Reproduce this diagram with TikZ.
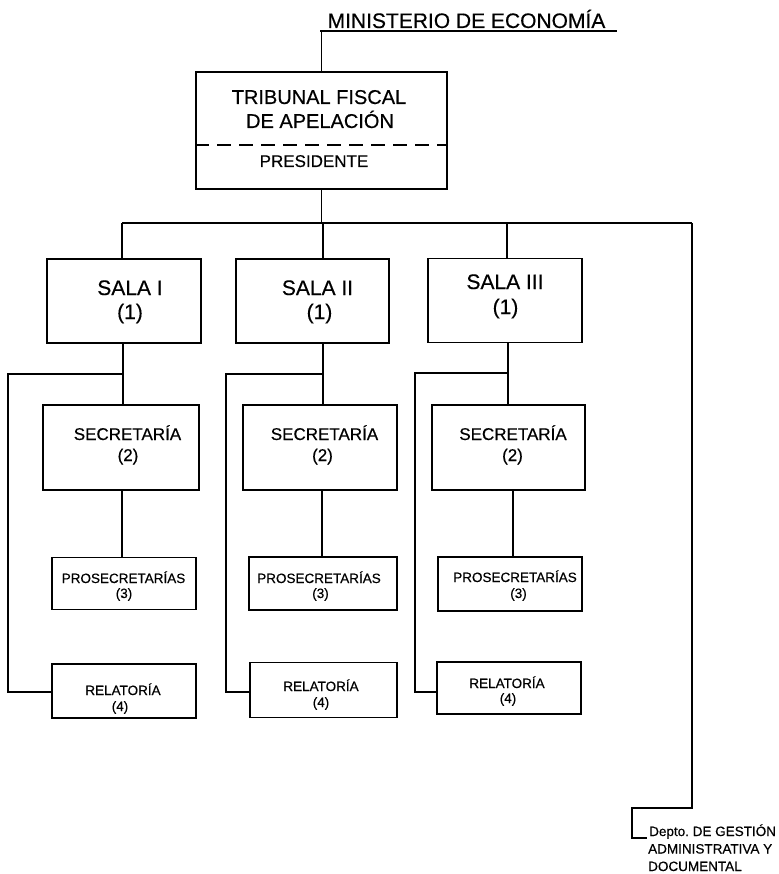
\documentclass[tikz,border=0pt]{standalone}
\usepackage{fontspec}
\setmainfont{Liberation Sans}[FakeBold=0.4]
\frenchspacing
\newcommand{\fsz}[1]{\fontsize{#1}{#1}\selectfont}
\begin{document}
\begin{tikzpicture}[x=1pt,y=-1pt,
  box/.style={draw, line width=1.6pt, rectangle, inner sep=0pt},
  conn/.style={line width=1.3pt},
  txt/.style={inner sep=0pt, anchor=base},
  big/.style={font=\fsz{21}},
  tfat/.style={font=\fsz{20}},
  mid/.style={font=\fsz{17}},
  small/.style={font=\fsz{13.5}}]
\useasboundingbox[fill=white] (0,0) rectangle (778,874);

% ---- boxes ----
\node[box, minimum width=251pt, minimum height=117pt] (tfa) at (321.5,130.5) {};
\node[box, minimum width=154pt, minimum height=84pt] (s1) at (124,301) {};
\node[box, minimum width=153pt, minimum height=84pt] (s2) at (312.5,301) {};
\node[box, minimum width=154pt, minimum height=84pt] (s3) at (505,300.5) {};
\node[box, minimum width=156pt, minimum height=85pt] (c1) at (121,447.5) {};
\node[box, minimum width=154pt, minimum height=85pt] (c2) at (320,447.5) {};
\node[box, minimum width=153pt, minimum height=85pt] (c3) at (508.5,447.5) {};
\node[box, minimum width=144pt, minimum height=52pt] (p1) at (124,583.5) {};
\node[box, minimum width=148pt, minimum height=53pt] (p2) at (323,583.5) {};
\node[box, minimum width=144pt, minimum height=54pt] (p3) at (510,584) {};
\node[box, minimum width=144pt, minimum height=54pt] (r1) at (124,691) {};
\node[box, minimum width=147pt, minimum height=55pt] (r2) at (323.5,690) {};
\node[box, minimum width=144pt, minimum height=52pt] (r3) at (509,688) {};

% ---- texts ----
\node[txt, big] (min) at (466.5,28) {MINISTERIO DE ECONOMÍA};
\node[txt, tfat] (t1) at (319,104) {TRIBUNAL FISCAL};
\node[txt, tfat] (t2) at (320,128) {DE APELACIÓN};
\node[txt, mid] (t3) at (314,167) {PRESIDENTE};

\node[txt, big] (s1a) at (130,295) {SALA I};
\node[txt, big] (s1b) at (130,319) {(1)};
\node[txt, big] (s2a) at (317.5,295) {SALA II};
\node[txt, big] (s2b) at (319.5,319) {(1)};
\node[txt, big] (s3a) at (505,289) {SALA III};
\node[txt, big] (s3b) at (505.5,314) {(1)};

\node[txt, mid] (c1a) at (127.5,440) {SECRETARÍA};
\node[txt, mid] (c1b) at (128,461) {(2)};
\node[txt, mid] (c2a) at (324.5,440) {SECRETARÍA};
\node[txt, mid] (c2b) at (322.5,461) {(2)};
\node[txt, mid] (c3a) at (513,440) {SECRETARÍA};
\node[txt, mid] (c3b) at (512.5,461) {(2)};

\node[txt, small] (p1a) at (123.5,583) {PROSECRETARÍAS};
\node[txt, small] (p1b) at (124,598) {(3)};
\node[txt, small] (p2a) at (319,583) {PROSECRETARÍAS};
\node[txt, small] (p2b) at (320.5,598) {(3)};
\node[txt, small] (p3a) at (515,582) {PROSECRETARÍAS};
\node[txt, small] (p3b) at (518.5,598) {(3)};

\node[txt, small] (r1a) at (123,695) {RELATORÍA};
\node[txt, small] (r1b) at (120,711) {(4)};
\node[txt, small] (r2a) at (321,691) {RELATORÍA};
\node[txt, small] (r2b) at (321,707) {(4)};
\node[txt, small] (r3a) at (507,688) {RELATORÍA};
\node[txt, small] (r3b) at (508,703) {(4)};

\node[txt, small, anchor=base west] (d1) at (649,836) {Depto. DE GESTIÓN};
\node[txt, small, anchor=base west] (d2) at (648,853.5) {ADMINISTRATIVA Y};
\node[txt, small, anchor=base west] (d3) at (648,871) {DOCUMENTAL};

% ---- dashed divider ----
\coordinate (dv) at (0,145);
\draw[conn, dash pattern=on 14pt off 8pt] (tfa.west |- dv) -- (tfa.east |- dv);

% ---- connectors ----
\coordinate (u0) at (321.5,31);
\coordinate (u1) at (320,31);
\coordinate (u2) at (617,31);
\draw[conn] (u1) -- (u2);
\draw[conn] (u0) -- (tfa.north);

\coordinate (b0) at (321.5,223);
\coordinate (bl) at (122,223);
\coordinate (b2) at (323,223);
\coordinate (b3) at (507,223);
\coordinate (br) at (692,223);
\draw[conn] (tfa.south) -- (b0);
\draw[conn] (bl) -- (br);
\draw[conn] (bl) -- (bl |- s1.north);
\draw[conn] (b2) -- (b2 |- s2.north);
\draw[conn] (b3) -- (b3 |- s3.north);

\coordinate (j1) at (123,374);
\coordinate (j2) at (323,374);
\coordinate (j3) at (508,373);
\draw[conn] (j1 |- s1.south) -- (j1 |- c1.north);
\draw[conn] (j2 |- s2.south) -- (j2 |- c2.north);
\draw[conn] (j3 |- s3.south) -- (j3 |- c3.north);

\coordinate (m1) at (122,0);
\coordinate (m2) at (322,0);
\coordinate (m3) at (513,0);
\draw[conn] (m1 |- c1.south) -- (m1 |- p1.north);
\draw[conn] (m2 |- c2.south) -- (m2 |- p2.north);
\draw[conn] (m3 |- c3.south) -- (m3 |- p3.north);

\coordinate (k1) at (8,692);
\coordinate (k2) at (226,692);
\coordinate (k3) at (415,692);
\draw[conn] (j1) -| (k1) -- (r1.west |- k1);
\draw[conn] (j2) -| (k2) -- (r2.west |- k2);
\draw[conn] (j3) -| (k3) -- (r3.west |- k3);

\coordinate (q1) at (632,808);
\coordinate (q2) at (647,838);
\draw[conn] (br) |- (q1) |- (q2);
\end{tikzpicture}
\end{document}
